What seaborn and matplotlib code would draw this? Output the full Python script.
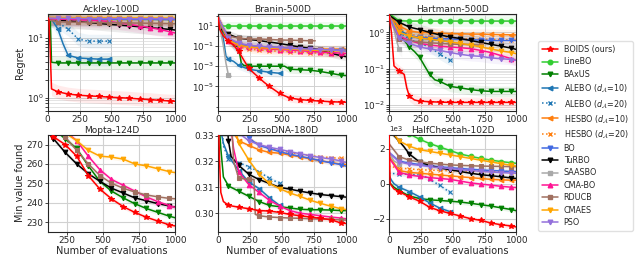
import numpy as np
import matplotlib
matplotlib.use("Agg")
import matplotlib.pyplot as plt
import matplotlib.ticker as mticker
from matplotlib.lines import Line2D
import seaborn as sns

# method styles: name -> (color, marker, linestyle)
methods = ["BOIDS (ours)", "LineBO", "BAxUS", r"ALEBO ($d_{\mathcal{A}}$=10)", r"ALEBO ($d_{\mathcal{A}}$=20)",
           r"HESBO ($d_{\mathcal{A}}$=10)", r"HESBO ($d_{\mathcal{A}}$=20)", "BO", "TuRBO", "SAASBO",
           "CMA-BO", "RDUCB", "CMAES", "PSO"]
colors = ["red", "limegreen", "green", "tab:blue", "tab:blue", "tab:orange", "tab:orange", "royalblue",
          "black", "darkgray", "deeppink", "#a07060", "orange", "mediumpurple"]
markers = ["*", "o", "v", "<", "x", "<", "x", "v", "v", "s", "^", "s", "v", "v"]
styles = ["-", "-", "-", "-", ":", "-", ":", "-", "-", "-", "-", "-", "-", "-"]
A10, A20 = methods[3], methods[4]
H10, H20 = methods[5], methods[6]

G = [0, 80, 160, 240, 320, 400, 480, 560, 640, 720, 800, 880, 960, 1000]
G5 = [0, 80, 160, 240, 320, 400, 480, 500]

ackley = {
    "BOIDS (ours)": ([0, 10, 20, 30, 80, 160, 240, 320, 400, 480, 560, 640, 720, 800, 880, 960, 1000],
                     [22, 20, 6, 1.4, 1.25, 1.15, 1.1, 1.07, 1.05, 1.02, 1.0, 0.98, 0.95, 0.93, 0.9, 0.88, 0.87]),
    "LineBO": (G, [21, 20.4, 20.4, 20.4, 20.4, 20.4, 20.4, 20.4, 20.4, 20.4, 20.4, 20.4, 20.4, 20.4]),
    "BAxUS": ([0, 20, 30, 80, 160, 240, 320, 400, 480, 560, 640, 720, 800, 880, 960, 1000],
              [22, 21, 3.9, 3.8, 3.8, 3.8, 3.8, 3.8, 3.8, 3.8, 3.8, 3.8, 3.8, 3.8, 3.8, 3.8]),
    A10: ([0, 40, 80, 120, 160, 240, 320, 400, 480, 500], [21, 19, 14, 8, 5.1, 4.6, 4.5, 4.4, 4.4, 4.4]),
    A20: (G5, [21, 18, 14, 9.5, 8.8, 8.8, 8.8, 8.8]),
    H10: (G, [21.5, 21.3, 21.2, 21.2, 21.1, 21.1, 21.0, 21.0, 21.0, 20.9, 20.9, 20.9, 20.8, 20.8]),
    H20: (G, [21.2, 21.0, 20.9, 20.9, 20.8, 20.8, 20.7, 20.7, 20.7, 20.6, 20.6, 20.6, 20.5, 20.5]),
    "BO": (G, [21, 20.8, 20.7, 20.6, 20.6, 20.5, 20.5, 20.4, 20.4, 20.3, 20.3, 20.2, 20.2, 20.2]),
    "TuRBO": (G, [21, 19.8, 19.2, 18.6, 18.0, 17.4, 16.8, 16.3, 15.8, 15.3, 14.8, 14.3, 13.8, 13.5]),
    "SAASBO": ([0, 40, 80, 100], [21, 20.6, 20.4, 20.3]),
    "CMA-BO": (G, [21, 20.5, 20.3, 20.0, 19.7, 19.3, 18.8, 17.8, 16.8, 15.8, 14.8, 13.8, 12.6, 12.0]),
    "RDUCB": (G, [20, 18.5, 18.3, 18.2, 18.1, 18.0, 17.9, 17.8, 17.7, 17.6, 17.5, 17.4, 17.3, 17.2]),
    "CMAES": (G, [22, 21.8, 21.7, 21.7, 21.6, 21.6, 21.6, 21.5, 21.5, 21.5, 21.5, 21.4, 21.4, 21.4]),
    "PSO": (G, [21.5, 21.2, 21.1, 21.0, 21.0, 20.9, 20.9, 20.9, 20.8, 20.8, 20.8, 20.8, 20.7, 20.7]),
}

branin = {
    "BOIDS (ours)": ([0, 10, 40, 80, 120, 160, 200, 240, 280, 320, 360, 400, 480, 560, 640, 720, 800, 880, 960, 1000],
                     [70, 5, 1.0, 0.3, 0.12, 0.03, 0.004, 6e-4, 2e-4, 7e-5, 2.5e-5, 1e-5, 2e-6, 7e-7, 5e-7,
                      4e-7, 3.5e-7, 3e-7, 2.8e-7, 2.7e-7]),
    "LineBO": (G, [9, 9, 9, 9, 9, 9, 9, 9, 9, 9, 9, 9, 9, 9]),
    "BAxUS": ([0, 20, 40, 80, 120, 160, 180, 200, 240, 320, 400, 480, 520, 560, 640, 720, 800, 880, 960, 1000],
              [70, 5, 2, 0.5, 0.12, 0.08, 0.002, 0.0012, 0.001, 0.001, 0.001, 0.001, 0.001, 5e-4, 4.5e-4,
               4e-4, 3e-4, 2e-4, 1.3e-4, 1.2e-4]),
    A10: ([0, 20, 40, 60, 80, 120, 160, 240, 320, 400, 480, 500],
          [70, 3, 0.5, 0.01, 0.005, 0.003, 0.0012, 5e-4, 3.5e-4, 2.5e-4, 2e-4, 2e-4]),
    A20: ([0, 40, 80, 120, 160, 170], [70, 2, 0.5, 0.1, 0.03, 0.03]),
    H10: (G, [60, 0.5, 0.15, 0.1, 0.08, 0.07, 0.065, 0.06, 0.06, 0.055, 0.05, 0.05, 0.05, 0.05]),
    H20: (G, [60, 0.3, 0.08, 0.05, 0.04, 0.035, 0.03, 0.028, 0.025, 0.022, 0.02, 0.018, 0.016, 0.015]),
    "BO": (G, [60, 0.5, 0.15, 0.1, 0.09, 0.08, 0.07, 0.06, 0.055, 0.05, 0.045, 0.04, 0.04, 0.04]),
    "TuRBO": (G, [7, 1.5, 0.6, 0.45, 0.35, 0.25, 0.18, 0.12, 0.08, 0.06, 0.04, 0.02, 0.011, 0.009]),
    "SAASBO": ([0, 20, 40, 60, 80, 100], [70, 2, 0.1, 0.002, 1.2e-4, 1e-4]),
    "CMA-BO": (G, [60, 0.3, 0.1, 0.08, 0.06, 0.05, 0.045, 0.04, 0.035, 0.03, 0.025, 0.022, 0.02, 0.018]),
    "RDUCB": ([0, 40, 80, 160, 240, 320, 400, 480, 560, 640, 720, 760],
              [60, 3, 1.0, 0.6, 0.5, 0.5, 0.45, 0.4, 0.38, 0.36, 0.33, 0.33]),
    "CMAES": (G, [60, 0.4, 0.12, 0.08, 0.07, 0.06, 0.055, 0.05, 0.045, 0.04, 0.037, 0.034, 0.032, 0.03]),
    "PSO": (G, [60, 0.6, 0.2, 0.12, 0.1, 0.08, 0.07, 0.06, 0.055, 0.05, 0.045, 0.04, 0.035, 0.03]),
}

hartmann = {
    "BOIDS (ours)": ([0, 20, 40, 80, 120, 140, 160, 200, 240, 320, 400, 480, 560, 640, 720, 800, 880, 960, 1000],
                     [3.3, 1.0, 0.12, 0.09, 0.07, 0.03, 0.018, 0.014, 0.013, 0.0125, 0.0122, 0.012, 0.012,
                      0.012, 0.012, 0.012, 0.012, 0.012, 0.012]),
    "LineBO": (G, [3.3, 2.1, 2.05, 2.05, 2.05, 2.05, 2.05, 2.05, 2.05, 2.05, 2.05, 2.05, 2.05, 2.05]),
    "BAxUS": ([0, 40, 80, 120, 160, 200, 240, 280, 320, 360, 400, 480, 560, 640, 720, 800, 880, 960, 1000],
              [3.3, 1.5, 0.9, 0.6, 0.4, 0.3, 0.21, 0.12, 0.07, 0.05, 0.045, 0.033, 0.03, 0.027, 0.025,
               0.024, 0.024, 0.024, 0.024]),
    A10: (G5, [3, 1.2, 0.8, 0.7, 0.65, 0.6, 0.55, 0.52]),
    A20: (G5, [3, 1.0, 0.65, 0.5, 0.4, 0.25, 0.17, 0.17]),
    H10: (G, [3.0, 1.5, 1.1, 1.0, 0.98, 0.95, 0.93, 0.92, 0.9, 0.9, 0.88, 0.87, 0.86, 0.85]),
    H20: (G, [3, 1.3, 0.9, 0.8, 0.75, 0.72, 0.7, 0.68, 0.66, 0.65, 0.64, 0.63, 0.62, 0.62]),
    "BO": (G, [3, 1.0, 0.8, 0.75, 0.7, 0.68, 0.66, 0.64, 0.63, 0.62, 0.6, 0.6, 0.6, 0.6]),
    "TuRBO": (G, [3.0, 1.9, 1.4, 1.2, 1.0, 0.85, 0.75, 0.68, 0.6, 0.53, 0.47, 0.42, 0.37, 0.34]),
    "SAASBO": ([0, 20, 40, 60, 80, 100], [3, 2, 1.2, 0.6, 0.35, 0.3]),
    "CMA-BO": (G, [3, 0.8, 0.6, 0.5, 0.45, 0.42, 0.4, 0.38, 0.36, 0.32, 0.28, 0.23, 0.19, 0.17]),
    "RDUCB": ([0, 80, 160, 240, 320, 400, 480, 560, 640, 720],
              [3, 0.65, 0.58, 0.55, 0.52, 0.5, 0.48, 0.47, 0.46, 0.45]),
    "CMAES": (G, [3, 1.0, 0.8, 0.7, 0.65, 0.6, 0.55, 0.5, 0.45, 0.4, 0.35, 0.31, 0.28, 0.26]),
    "PSO": (G, [3, 0.7, 0.5, 0.4, 0.35, 0.32, 0.28, 0.25, 0.23, 0.22, 0.2, 0.19, 0.18, 0.17]),
}

M = [100, 160, 240, 320, 400, 480, 560, 640, 720, 800, 880, 960, 1000]
mopta = {
    "BOIDS (ours)": (M, [280, 274, 270, 264, 254, 247, 242, 238, 235, 232.5, 230.5, 228.5, 228]),
    "BAxUS": (M, [282, 278, 273, 268, 259, 251, 246, 242.5, 239.5, 237, 235, 233, 232.2]),
    "TuRBO": (M, [280, 273, 266, 260, 255, 251, 247.5, 245, 242.5, 241, 239.5, 238.3, 237.7]),
    "CMA-BO": (M, [284, 280, 277, 272, 264, 257, 252, 249, 246, 243, 240.5, 238.5, 237.5]),
    "RDUCB": (M, [282, 279, 274, 267, 260, 254, 250, 247.5, 245.5, 244, 243, 242.2, 242]),
    "CMAES": (M, [285, 280, 276, 272, 267, 264, 263.5, 262.5, 260, 259, 257.5, 256, 255.5]),
}

lasso = {
    "BOIDS (ours)": ([0, 10, 20, 40, 80, 160, 240, 320, 400, 480, 560, 640, 720, 800, 880, 960, 1000],
                     [0.34, 0.32, 0.308, 0.3045, 0.303, 0.3023, 0.3017, 0.301, 0.3008, 0.3003, 0.2995,
                      0.299, 0.2985, 0.298, 0.2975, 0.2962, 0.296]),
    "BAxUS": ([0, 20, 40, 80, 160, 240, 320, 400, 480, 560, 640, 720, 800, 880, 960, 1000],
              [0.34, 0.325, 0.314, 0.3105, 0.3085, 0.3065, 0.3045, 0.303, 0.3025, 0.302, 0.3015, 0.3013,
               0.3013, 0.3012, 0.301, 0.301]),
    A10: ([0, 20, 40, 80, 160, 240, 320, 400, 480, 500],
          [0.34, 0.332, 0.327, 0.322, 0.3165, 0.312, 0.3095, 0.306, 0.303, 0.3028]),
    A20: ([20, 40, 80, 160, 240, 320, 400, 480, 500],
          [0.34, 0.326, 0.321, 0.3195, 0.318, 0.316, 0.3135, 0.3115, 0.311]),
    H10: ([80, 120, 160, 240, 320, 400, 480, 560, 640, 720, 800, 880, 960, 1000],
          [0.34, 0.331, 0.328, 0.3262, 0.3245, 0.3235, 0.3232, 0.3225, 0.3218, 0.321, 0.3203, 0.3196,
           0.319, 0.3188]),
    H20: ([200, 240, 320, 400, 480, 560, 640, 720, 800, 880, 960, 1000],
          [0.34, 0.329, 0.3265, 0.325, 0.3242, 0.3235, 0.3228, 0.3222, 0.3218, 0.3215, 0.3212, 0.3212]),
    "BO": ([160, 240, 320, 400, 480, 560, 640, 720, 800, 880, 960, 1000],
           [0.34, 0.329, 0.3262, 0.325, 0.3238, 0.3228, 0.322, 0.3212, 0.3203, 0.3195, 0.3188, 0.3182]),
    "TuRBO": ([60, 80, 100, 160, 240, 320, 400, 480, 560, 640, 720, 800, 880, 960, 1000],
              [0.34, 0.328, 0.322, 0.3185, 0.315, 0.313, 0.3115, 0.31, 0.3093, 0.3085, 0.3078, 0.3072,
               0.3068, 0.3064, 0.3062]),
    "CMA-BO": ([80, 120, 160, 240, 320, 400, 480, 560, 640, 720, 800, 880, 960, 1000],
               [0.34, 0.325, 0.316, 0.311, 0.308, 0.305, 0.3028, 0.301, 0.3, 0.2995, 0.299, 0.2985,
                0.2981, 0.2978]),
    "RDUCB": ([100, 120, 160, 200, 240, 280, 290, 320, 400, 480, 560, 640, 720, 800, 880, 960, 1000],
              [0.34, 0.32, 0.3135, 0.3133, 0.3132, 0.313, 0.2995, 0.299, 0.2985, 0.2983, 0.2981, 0.298,
               0.2978, 0.2977, 0.2976, 0.2974, 0.2973]),
    "CMAES": ([100, 160, 240, 320, 400, 480, 560, 640, 720, 800, 880, 960, 1000],
              [0.34, 0.327, 0.3205, 0.315, 0.3115, 0.3095, 0.3078, 0.3065, 0.305, 0.3038, 0.3027,
               0.3017, 0.3014]),
    "PSO": ([120, 160, 240, 320, 400, 480, 560, 640, 720, 800, 880, 960, 1000],
            [0.34, 0.331, 0.328, 0.3265, 0.3255, 0.3247, 0.3238, 0.323, 0.3222, 0.3215, 0.321, 0.3202,
             0.3196]),
}

cheetah = {
    "BOIDS (ours)": ([0, 10, 40, 80, 160, 240, 320, 400, 480, 560, 640, 720, 800, 880, 960, 1000],
                     [3500, 0, -300, -450, -750, -1000, -1350, -1550, -1700, -1850, -2000, -2100, -2250,
                      -2350, -2420, -2480]),
    "LineBO": ([120, 160, 240, 320, 400, 480, 560, 640, 720, 800, 880, 960, 1000],
               [3000, 2850, 2550, 2300, 2100, 1900, 1700, 1570, 1450, 1350, 1270, 1200, 1170]),
    "BAxUS": ([0, 40, 80, 160, 240, 320, 400, 480, 560, 640, 720, 800, 880, 960, 1000],
              [100, -200, -400, -700, -850, -920, -960, -1000, -1050, -1120, -1200, -1280, -1380,
               -1480, -1550]),
    A10: ([0, 20, 40, 80, 160, 240, 320, 400, 480, 500],
          [500, 200, 0, -200, -450, -750, -1100, -1400, -1600, -1650]),
    A20: ([0, 40, 80, 160, 240, 280, 320, 400, 480, 500],
          [600, 580, 560, 540, 500, 420, 250, -100, -500, -600]),
    H10: (G, [1600, 750, 650, 600, 550, 500, 450, 400, 350, 300, 250, 220, 200, 200]),
    H20: (G, [1000, 900, 850, 800, 780, 760, 750, 740, 730, 720, 710, 700, 700, 700]),
    "BO": (G, [1800, 1300, 1180, 1100, 1030, 970, 920, 870, 830, 790, 760, 730, 700, 690]),
    "TuRBO": ([0, 40, 80, 120, 160, 240, 320, 400, 480, 560, 640, 720, 800, 880, 960, 1000],
              [3000, 2750, 2450, 2100, 1700, 1250, 1050, 900, 800, 700, 600, 520, 460, 400, 330, 300]),
    "SAASBO": ([0, 40, 80, 100], [1800, 1300, 1150, 1100]),
    "CMA-BO": (G, [1500, 650, 500, 420, 350, 300, 250, 150, 50, -20, -80, -150, -200, -220]),
    "RDUCB": (G, [2300, 1550, 1350, 1250, 1180, 1120, 1080, 1050, 1030, 1010, 1000, 990, 980, 980]),
    "CMAES": (G, [3200, 2450, 2150, 1950, 1850, 1750, 1650, 1550, 1450, 1350, 1250, 1150, 1050, 1000]),
    "PSO": (G, [1800, 1250, 1120, 1050, 980, 920, 870, 810, 760, 710, 670, 640, 610, 600]),
}

panels = [
    ("Ackley-100D", ackley, "log", (0.6, 25), 1.3),
    ("Branin-500D", branin, "log", (3.7e-8, 150), 2.5),
    ("Hartmann-500D", hartmann, "log", (0.007, 3.2), 1.4),
    ("Mopta-124D", mopta, "linear", (225, 275), 1.2),
    ("LassoDNA-180D", lasso, "linear", (0.2928, 0.3303), 0.0008),
    ("HalfCheetah-102D", cheetah, "linear", (-2750, 2800), 130),
]

sns.set_style("whitegrid", {"axes.edgecolor": "0.15", "grid.color": "0.82",
                            "xtick.bottom": True, "ytick.left": True})
plt.rcParams["font.family"] = ["DejaVu Sans"]
plt.rcParams["mathtext.fontset"] = "dejavusans"

fig, axes = plt.subplots(2, 3, figsize=(6.4, 2.72), dpi=100)
fig.subplots_adjust(left=0.0745, right=0.807, top=0.9485, bottom=0.148, wspace=0.337, hspace=0.247)

for ax, (title, data, scale, ylim, band) in zip(axes.flat, panels):
    ax.set_yscale(scale)
    order = [m for m in methods[1:] if m in data] + [methods[0]]
    for m in order:
        k = methods.index(m)
        xs, ys = data[m]
        xs = np.array(xs, dtype=float)
        ys = np.array(ys, dtype=float)
        if scale == "log":
            lo, hi = ys / band, ys * band
        else:
            lo, hi = ys - band, ys + band
        ax.fill_between(xs, lo, hi, color=colors[k], alpha=0.08, lw=0)
        mark = [i for i, x in enumerate(xs) if x > 0 and x % 80 == 0]
        sns.lineplot(x=xs, y=ys, ax=ax, color=colors[k], linestyle=styles[k], lw=1.1,
                     marker=markers[k], markersize=3.3 if markers[k] != "*" else 4.3,
                     markeredgecolor=colors[k], markeredgewidth=0.8, markevery=mark,
                     zorder=3 if k == 0 else 2, sort=False, estimator=None)
    ax.set_title(title, fontsize=6.5, pad=1.5)
    ax.set_ylim(*ylim)
    ax.tick_params(labelsize=6.4, length=2, width=0.6, pad=1)
    ax.set_xlabel("")
    ax.set_ylabel("")
    for s in ax.spines.values():
        s.set_linewidth(0.8)

for ax in axes[0]:
    ax.set_xlim(0, 1000)
    ax.set_xticks([0, 250, 500, 750, 1000])
    ax.grid(True, which="minor", axis="y", color="0.85", lw=0.5)
    ax.grid(True, which="major", color="0.82", lw=0.7)
axes[0, 1].set_yticks([1e-5, 1e-3, 1e-1, 1e1])
axes[0, 1].yaxis.set_minor_locator(mticker.LogLocator(base=10, subs=[1.0], numticks=20))
axes[0, 1].tick_params(axis="y", which="minor", length=1.5)
axes[0, 1].yaxis.set_minor_formatter(mticker.NullFormatter())

axes[1, 0].set_xlim(120, 1000)
axes[1, 0].set_xticks([250, 500, 750, 1000])
axes[1, 0].set_yticks([230, 240, 250, 260, 270])
axes[1, 1].set_xlim(0, 1000)
axes[1, 1].set_xticks([0, 250, 500, 750, 1000])
axes[1, 1].set_yticks([0.30, 0.31, 0.32, 0.33])
axes[1, 2].set_xlim(0, 1000)
axes[1, 2].set_xticks([0, 250, 500, 750, 1000])
axes[1, 2].yaxis.set_major_locator(mticker.MultipleLocator(2000))
axes[1, 2].ticklabel_format(axis="y", style="sci", scilimits=(0, 0))
axes[1, 2].yaxis.get_offset_text().set_fontsize(5)
for ax in axes[1]:
    ax.set_xlabel("Number of evaluations", fontsize=7, labelpad=1)

axes[0, 0].set_ylabel("Regret", fontsize=7, labelpad=1)
axes[1, 0].set_ylabel("Min value found", fontsize=7, labelpad=1)

handles = [Line2D([], [], color=colors[k], linestyle=styles[k], lw=1.1, marker=markers[k],
                  markersize=3.3 if markers[k] != "*" else 4.3, markeredgecolor=colors[k])
           for k in range(len(methods))]
fig.legend(handles, methods, loc="center left", bbox_to_anchor=(0.838, 0.5), fontsize=5.8,
           frameon=True, labelspacing=0.42, handlelength=2.0, borderpad=0.5, handletextpad=0.7,
           borderaxespad=0.2, edgecolor="0.85", fancybox=True)

fig.savefig("out.png", dpi=100)
